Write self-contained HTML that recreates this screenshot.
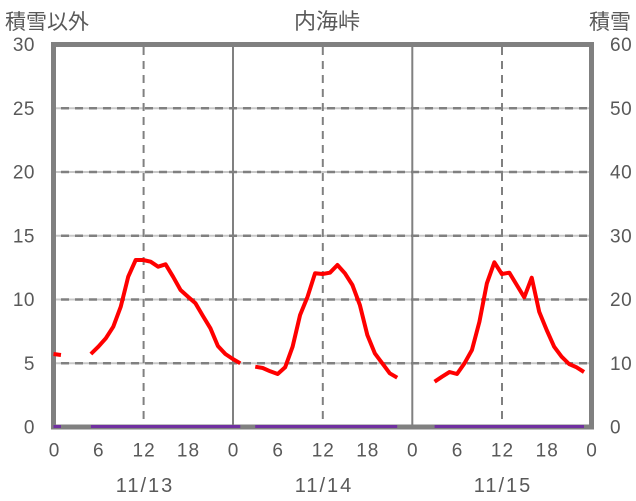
<!DOCTYPE html>
<html>
<head>
<meta charset="utf-8">
<style>
html,body{margin:0;padding:0;background:#fff;}
svg{display:block;}
text{fill:#595959;font-family:"Liberation Sans","Noto Sans CJK JP",sans-serif;}
.cjk{font-family:"Noto Sans CJK JP","Liberation Sans",sans-serif;}
</style>
</head>
<body>
<svg width="636" height="501" viewBox="0 0 636 501" xmlns="http://www.w3.org/2000/svg">
  <rect x="0" y="0" width="636" height="501" fill="#fff"/>
  <g stroke-width="2">
    <g stroke="#c8c8c8">
      <line x1="56" y1="108.25" x2="589" y2="108.25"/>
      <line x1="56" y1="172" x2="589" y2="172"/>
      <line x1="56" y1="235.75" x2="589" y2="235.75"/>
      <line x1="56" y1="299.5" x2="589" y2="299.5"/>
      <line x1="56" y1="363.25" x2="589" y2="363.25"/>
    </g>
    <g stroke="#808080" stroke-dasharray="8 6" stroke-width="2.5">
      <line x1="61" y1="108.25" x2="589" y2="108.25"/>
      <line x1="61" y1="172" x2="589" y2="172"/>
      <line x1="61" y1="235.75" x2="589" y2="235.75"/>
      <line x1="61" y1="299.5" x2="589" y2="299.5"/>
      <line x1="61" y1="363.25" x2="589" y2="363.25"/>
    </g>
    <g stroke="#808080" stroke-dasharray="8 6" stroke-width="2">
      <line x1="143.6" y1="47" x2="143.6" y2="425"/>
      <line x1="322.8" y1="47" x2="322.8" y2="425"/>
      <line x1="502" y1="47" x2="502" y2="425"/>
    </g>
    <g stroke="#808080" stroke-width="2">
      <line x1="233" y1="46" x2="233" y2="425"/>
      <line x1="412.3" y1="46" x2="412.3" y2="425"/>
    </g>
  </g>
  <rect x="53.5" y="44.5" width="538" height="382.5" fill="none" stroke="#808080" stroke-width="5"/>

  <g fill="none" stroke="#ff0000" stroke-width="4" stroke-linejoin="round" stroke-linecap="butt">
    <polyline points="53.5,354 60.97,355"/>
    <polyline points="90.86,354 98.33,346.7 105.81,338.3 113.28,326.7 120.75,306.7 128.22,276.7 135.69,260 143.17,260 150.64,261.7 158.11,266.7 165.58,264.3 173.06,276.7 180.53,290 188,296.7 195.47,303.3 202.94,316 210.42,328.3 217.89,346 225.36,354 232.83,359 240.31,363.3"/>
    <polyline points="255.25,366.7 262.72,368 270.19,371.3 277.67,374 285.14,367.3 292.61,346.7 300.08,315 307.56,296.7 315.03,273.3 322.5,274 329.97,272.7 337.44,265 344.92,273.3 352.39,285 359.86,305 367.33,335 374.81,353.3 382.28,363.3 389.75,373.3 397.22,377.7"/>
    <polyline points="434.58,381.7 442.06,376.7 449.53,372 457,374 464.47,363.3 471.94,350 479.42,321.7 486.89,283.3 494.36,262.3 501.83,274 509.31,272.7 516.78,285 524.25,297.3 531.72,277.7 539.19,311.7 546.67,330 554.14,346.7 561.61,356.7 569.08,364 576.56,367.3 584.03,372"/>
  </g>

  <g fill="none" stroke="#7030a0" stroke-width="3">
    <line x1="53.5" y1="426.5" x2="61" y2="426.5"/>
    <line x1="90.9" y1="426.5" x2="240.3" y2="426.5"/>
    <line x1="255.2" y1="426.5" x2="397.2" y2="426.5"/>
    <line x1="434.6" y1="426.5" x2="584" y2="426.5"/>
  </g>

  <text class="cjk" x="5" y="29" font-size="21">積雪以外</text>
  <text class="cjk" x="327" y="29" font-size="22" text-anchor="middle">内海峠</text>
  <text class="cjk" x="589" y="29" font-size="21">積雪</text>

  <g font-size="19" text-anchor="end" letter-spacing="0.5">
    <text x="35" y="51.2">30</text>
    <text x="35" y="115">25</text>
    <text x="35" y="178.7">20</text>
    <text x="35" y="242.5">15</text>
    <text x="35" y="306.2">10</text>
    <text x="35" y="370">5</text>
    <text x="35" y="433.7">0</text>
  </g>
  <g font-size="19" text-anchor="start" letter-spacing="0.5">
    <text x="610" y="51.2">60</text>
    <text x="610" y="115">50</text>
    <text x="610" y="178.7">40</text>
    <text x="610" y="242.5">30</text>
    <text x="610" y="306.2">20</text>
    <text x="610" y="370">10</text>
    <text x="610" y="433.7">0</text>
  </g>
  <g font-size="19" text-anchor="middle" letter-spacing="1">
    <text x="54.5" y="456.5">0</text>
    <text x="98.8" y="456.5">6</text>
    <text x="144.1" y="456.5">12</text>
    <text x="188.5" y="456.5">18</text>
    <text x="233.5" y="456.5">0</text>
    <text x="278.2" y="456.5">6</text>
    <text x="323.3" y="456.5">12</text>
    <text x="367.8" y="456.5">18</text>
    <text x="412.8" y="456.5">0</text>
    <text x="457.5" y="456.5">6</text>
    <text x="502.5" y="456.5">12</text>
    <text x="547.2" y="456.5">18</text>
    <text x="592" y="456.5">0</text>
  </g>
  <g font-size="20" text-anchor="middle" letter-spacing="2">
    <text x="145" y="492">11/13</text>
    <text x="324" y="492">11/14</text>
    <text x="503" y="492">11/15</text>
  </g>
</svg>
</body>
</html>
